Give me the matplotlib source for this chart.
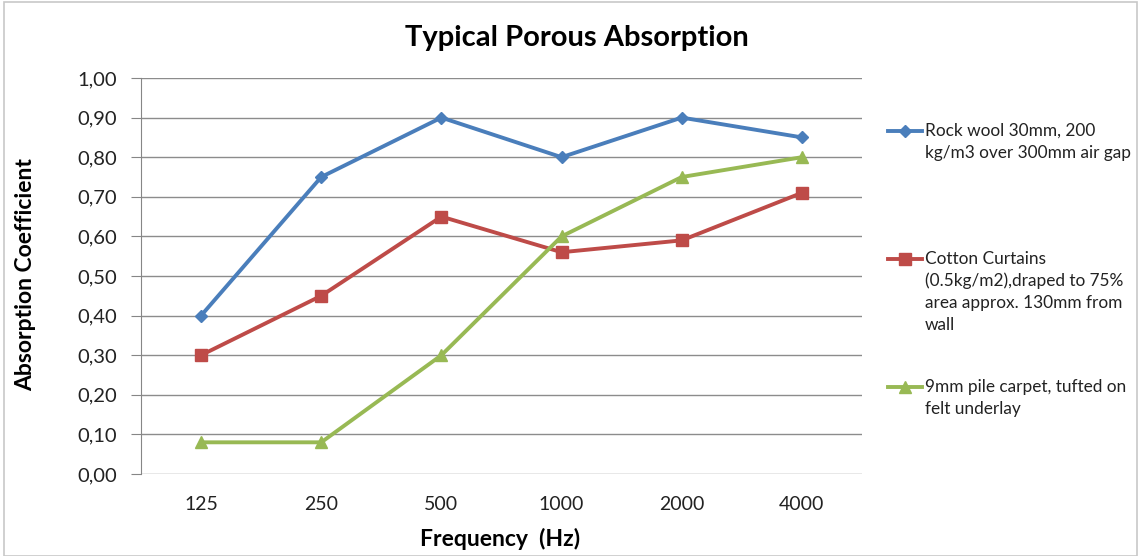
import matplotlib
matplotlib.use("Agg")
import matplotlib.pyplot as plt
from matplotlib.lines import Line2D
from matplotlib.patches import Rectangle
from matplotlib.ticker import FuncFormatter

plt.rcParams['font.family'] = ['Lato', 'DejaVu Sans']

categories = ["125", "250", "500", "1000", "2000", "4000"]
rock_wool = [0.40, 0.75, 0.90, 0.80, 0.90, 0.85]
cotton = [0.30, 0.45, 0.65, 0.56, 0.59, 0.71]
carpet = [0.08, 0.08, 0.30, 0.60, 0.75, 0.80]

labels = [
    "Rock wool 30mm, 200\nkg/m3 over 300mm air gap",
    "Cotton Curtains\n(0.5kg/m2),draped to 75%\narea approx. 130mm from\nwall",
    "9mm pile carpet, tufted on\nfelt underlay",
]
series = [rock_wool, cotton, carpet]
colors = ["#4A7EBB", "#BE4B48", "#98B954"]
markers = ["D", "s", "^"]
msizes = [6, 8, 8]

W, H = 1139, 556
fig = plt.figure(figsize=(W / 100, H / 100), dpi=100)
ax = fig.add_axes([141 / W, 1 - 474 / H, (862 - 141) / W, (474 - 78) / H])

x = list(range(len(categories)))
for vals, c, m, ms in zip(series, colors, markers, msizes):
    ax.plot(x, vals, color=c, lw=2.8, marker=m, markersize=ms, zorder=3)

ax.set_xlim(-0.5, len(categories) - 0.5)
ax.set_ylim(0, 1.0)
ax.set_yticks([i / 10 for i in range(11)])
ax.yaxis.set_major_formatter(FuncFormatter(lambda v, p: f"{v:.2f}".replace(".", ",")))
ax.set_xticks(x)
ax.set_xticklabels(categories)
ax.grid(axis='y', color='#8c8c8c', lw=1.0)
ax.set_axisbelow(True)
for s in ['top', 'right', 'bottom']:
    ax.spines[s].set_visible(False)
ax.spines['left'].set_color('#868686')
ax.tick_params(axis='y', direction='out', length=7, color='#868686', labelsize=14.5, pad=10, labelcolor='#222222')
ax.tick_params(axis='x', length=0, labelsize=14, pad=16, labelcolor='#222222')

ax.set_xlabel("Frequency  (Hz)", fontsize=16.5, fontweight='bold')
ax.set_ylabel("Absorption Coefficient", fontsize=16.5, fontweight='bold')
ax.xaxis.set_label_coords((500 - 141) / (862 - 141), -(528 - 474) / (474 - 78))
ax.yaxis.set_label_coords(-(141 - 36) / (862 - 141), (474 - 275) / (474 - 78))

fig.text(577 / W, 1 - 38 / H, "Typical Porous Absorption", fontsize=21, fontweight='bold',
         ha='center', va='center')

# legend
first_lines = [131, 259, 387]
line_h = 22
for lab, c, m, ms, y0 in zip(labels, colors, markers, msizes, first_lines):
    yy = 1 - y0 / H
    fig.add_artist(Line2D([888 / W, 922 / W], [yy, yy], color=c, lw=2.8,
                          transform=fig.transFigure))
    fig.add_artist(Line2D([905 / W], [yy], color=c, marker=m, markersize=ms,
                          transform=fig.transFigure))
    for i, ln in enumerate(lab.split("\n")):
        fig.text(925 / W, 1 - (y0 + i * line_h) / H, ln, fontsize=12.4,
                 ha='left', va='center', color='#222222')

fig.add_artist(Rectangle((4 / W, 0), (W - 6) / W, 1 - 2 / H, transform=fig.transFigure,
                         fill=False, edgecolor='#c8c8c8', lw=1.2))

fig.savefig("out.png", dpi=100)
